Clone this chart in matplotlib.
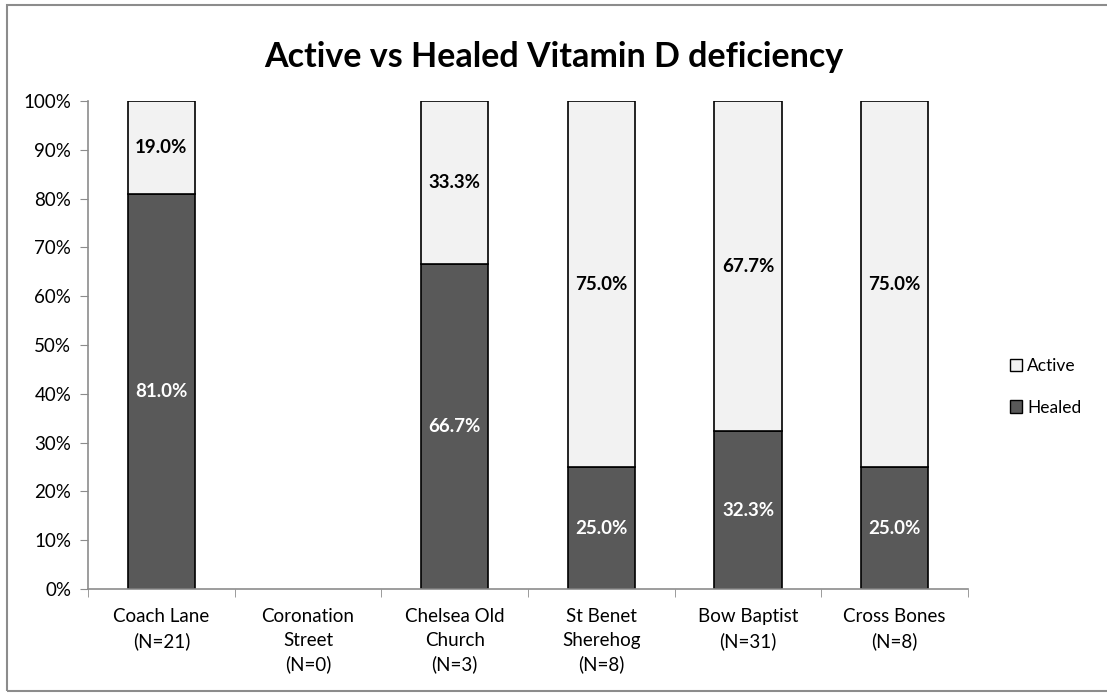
import matplotlib
matplotlib.use("Agg")
import matplotlib.pyplot as plt
from matplotlib.patches import Rectangle, Patch
import numpy as np

plt.rcParams['font.family'] = ['Lato', 'DejaVu Sans']

categories = ["Coach Lane\n(N=21)", "Coronation\nStreet\n(N=0)", "Chelsea Old\nChurch\n(N=3)",
              "St Benet\nSherehog\n(N=8)", "Bow Baptist\n(N=31)", "Cross Bones\n(N=8)"]
healed = [81.0, 0.0, 66.7, 25.0, 32.3, 25.0]
active = [19.0, 0.0, 33.3, 75.0, 67.7, 75.0]
ylabels = ["0%", "10%", "20%", "30%", "40%", "50%", "60%", "70%", "80%", "90%", "100%"]

W, H = 1107, 693
fig = plt.figure(figsize=(W/100, H/100), dpi=100)
fig.patch.set_facecolor('white')

# outer frame
fig.add_artist(Rectangle((7/W, 1 - 691/H), 1.2, (691-5)/H, transform=fig.transFigure,
                         fill=False, edgecolor='#8c8c8c', linewidth=1.5))

ax = fig.add_axes([88/W, 1 - 589/H, (968-88)/W, (589-101)/H])
x = np.arange(len(categories))
dark = '#595959'
light = '#f2f2f2'
bw = 0.46
for i in range(len(categories)):
    if healed[i] + active[i] == 0:
        continue
    ax.bar(x[i], healed[i], width=bw, color=dark, edgecolor='black', linewidth=1.2)
    ax.bar(x[i], active[i], bottom=healed[i], width=bw, color=light, edgecolor='black', linewidth=1.2)
    ax.text(x[i], healed[i]/2, f"{healed[i]:.1f}%", ha='center', va='center',
            color='white', fontsize=13.5, fontweight='bold')
    ax.text(x[i], healed[i] + active[i]/2, f"{active[i]:.1f}%", ha='center', va='center',
            color='black', fontsize=13.5, fontweight='bold')

ax.set_xlim(-0.5, len(categories) - 0.5)
ax.set_ylim(0, 100)
ax.set_yticks(np.arange(0, 101, 10))
ax.set_yticklabels(ylabels, fontsize=13.5)
ax.set_xticks(x)
ax.set_xticklabels(categories, fontsize=13.5, linespacing=1.45)
ax.set_xticks(np.arange(-0.5, len(categories) + 0.5, 1), minor=True)
ax.tick_params(axis='x', which='major', length=0, pad=14)
ax.tick_params(axis='x', which='minor', length=6, color='#8c8c8c', direction='out')
ax.tick_params(axis='y', length=6, color='#8c8c8c', direction='out', pad=6)
for s in ['top', 'right']:
    ax.spines[s].set_visible(False)
for s in ['left', 'bottom']:
    ax.spines[s].set_color('#8c8c8c')
    ax.spines[s].set_linewidth(1.2)

fig.text(0.5, 1 - 57/H, "Active vs Healed Vitamin D deficiency", ha='center', va='center',
         fontsize=24.5, fontweight='bold')

handles = [Patch(facecolor=light, edgecolor='black', label='Active'),
           Patch(facecolor=dark, edgecolor='black', label='Healed')]
fig.legend(handles=handles, loc='center left', bbox_to_anchor=(994/W, 1 - 387/H),
           frameon=False, fontsize=12.5, handlelength=0.7, handleheight=0.7,
           handletextpad=0.3, labelspacing=1.45)

fig.savefig("out.png", dpi=100)
